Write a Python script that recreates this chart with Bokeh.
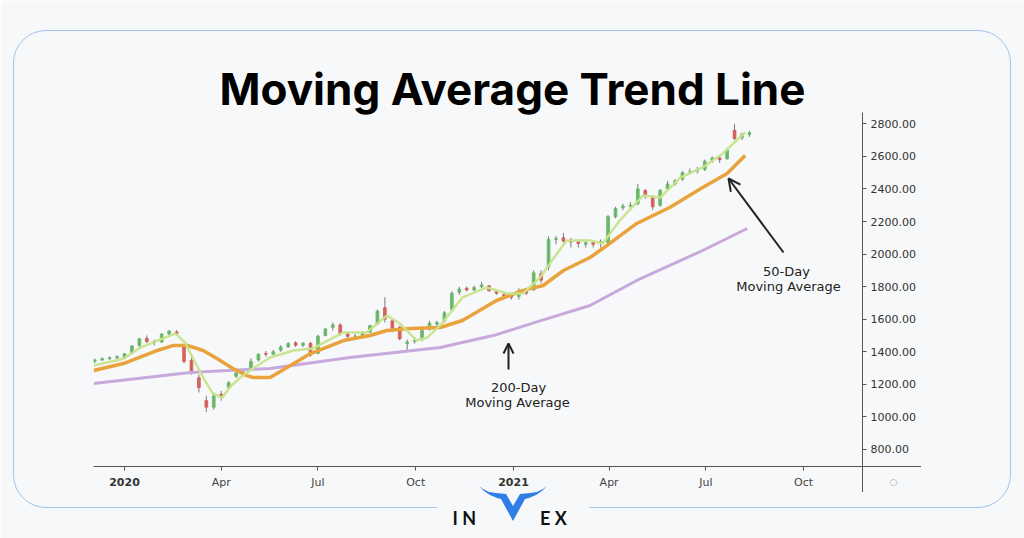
import pandas as pd
from bokeh.plotting import figure
from bokeh.models import (ColumnDataSource, FixedTicker, NumeralTickFormatter, Label,
                          Arrow, OpenHead, Range1d, InlineStyleSheet)
from bokeh.embed import file_html
from bokeh.resources import INLINE

# ---------------- data ----------------
candle_dates = list(pd.date_range("2019-12-04", periods=89, freq="7D").strftime("%Y-%m-%d"))
opens = [1342, 1350, 1358, 1364, 1362, 1392, 1438, 1482, 1462, 1460, 1510, 1522, 1440, 1347, 1240,
         1100, 1060, 1140, 1180, 1250, 1270, 1300, 1350, 1390, 1385, 1410, 1430, 1455, 1440, 1452,
         1390, 1500, 1550, 1565, 1510, 1495, 1495, 1520, 1570, 1670, 1590, 1550, 1450, 1465, 1475,
         1540, 1570, 1590, 1660, 1765, 1790, 1780, 1800, 1805, 1770, 1750, 1745, 1740, 1770, 1780,
         1880, 1920, 2090, 2100, 2080, 2075, 2060, 2070, 2065, 2070, 2230, 2285, 2295, 2310, 2390,
         2350, 2300, 2400, 2430, 2460, 2505, 2510, 2520, 2575, 2590, 2585, 2760, 2715, 2735]
highs = [1358, 1365, 1372, 1378, 1392, 1440, 1485, 1500, 1475, 1515, 1532, 1532, 1450, 1380, 1260,
         1130, 1150, 1160, 1220, 1280, 1290, 1360, 1390, 1405, 1412, 1440, 1460, 1465, 1460, 1460,
         1505, 1545, 1580, 1575, 1520, 1510, 1525, 1565, 1660, 1735, 1600, 1560, 1475, 1490, 1540,
         1590, 1590, 1650, 1770, 1800, 1800, 1805, 1830, 1810, 1780, 1760, 1760, 1790, 1790, 1900,
         1900, 2110, 2110, 2130, 2100, 2090, 2090, 2080, 2090, 2240, 2290, 2310, 2320, 2430, 2400,
         2360, 2400, 2450, 2460, 2510, 2525, 2535, 2580, 2600, 2600, 2650, 2800, 2745, 2755]
lows = [1330, 1343, 1350, 1356, 1355, 1388, 1432, 1455, 1440, 1455, 1500, 1500, 1330, 1260, 1150,
        1030, 1045, 1100, 1170, 1240, 1250, 1290, 1340, 1370, 1380, 1400, 1425, 1430, 1430, 1370,
        1385, 1495, 1530, 1500, 1480, 1480, 1490, 1515, 1565, 1580, 1520, 1470, 1410, 1450, 1465,
        1530, 1550, 1580, 1650, 1750, 1770, 1770, 1790, 1770, 1750, 1730, 1720, 1720, 1750, 1775,
        1820, 1900, 2060, 2070, 2040, 2040, 2040, 2040, 2040, 2060, 2220, 2270, 2280, 2300, 2340,
        2270, 2290, 2395, 2420, 2450, 2490, 2495, 2510, 2560, 2560, 2580, 2700, 2700, 2720]
closes = [1350, 1358, 1364, 1370, 1388, 1435, 1480, 1462, 1458, 1508, 1528, 1510, 1340, 1270, 1180,
          1060, 1130, 1120, 1210, 1270, 1270, 1340, 1385, 1385, 1400, 1430, 1450, 1440, 1452, 1380,
          1495, 1540, 1565, 1510, 1495, 1495, 1515, 1560, 1650, 1600, 1545, 1480, 1460, 1470, 1530,
          1575, 1580, 1640, 1760, 1785, 1780, 1795, 1810, 1775, 1760, 1745, 1735, 1775, 1760, 1885,
          1840, 2090, 2095, 2080, 2075, 2065, 2070, 2060, 2075, 2230, 2280, 2295, 2300, 2400, 2360,
          2290, 2390, 2430, 2450, 2500, 2505, 2520, 2570, 2590, 2580, 2640, 2710, 2735, 2745]

fast_dates = ["2019-12-03", "2019-12-31", "2020-01-16", "2020-02-01", "2020-02-18", "2020-02-27",
              "2020-03-05", "2020-03-15", "2020-03-24", "2020-04-02", "2020-04-09", "2020-04-19",
              "2020-04-28", "2020-05-17", "2020-06-08", "2020-06-26", "2020-07-25", "2020-08-16",
              "2020-09-04", "2020-09-16", "2020-10-02", "2020-10-12", "2020-10-24", "2020-10-30",
              "2020-11-14", "2020-12-07", "2020-12-26", "2021-01-10", "2021-01-26", "2021-02-11",
              "2021-02-20", "2021-03-14", "2021-03-26", "2021-04-11", "2021-05-03", "2021-05-19",
              "2021-06-07", "2021-06-28", "2021-07-17", "2021-08-07"]
fast_ma = [1316, 1357, 1426, 1469, 1512, 1457, 1365, 1242, 1144, 1119, 1181, 1242, 1285, 1365, 1408,
           1420, 1519, 1519, 1623, 1574, 1469, 1488, 1562, 1611, 1734, 1795, 1758, 1758, 1856, 2004,
           2084, 2084, 2065, 2206, 2360, 2347, 2470, 2532, 2618, 2747]

ma50_dates = ["2019-12-03", "2019-12-31", "2020-02-01", "2020-02-16", "2020-02-29", "2020-03-15",
              "2020-03-28", "2020-04-12", "2020-04-25", "2020-05-01", "2020-05-17", "2020-06-02",
              "2020-06-24", "2020-07-25", "2020-08-19", "2020-09-04", "2020-09-26", "2020-10-24",
              "2020-11-14", "2020-12-16", "2021-01-10", "2021-01-29", "2021-02-17", "2021-03-14",
              "2021-03-26", "2021-04-27", "2021-05-28", "2021-06-28", "2021-07-21", "2021-08-07"]
ma50 = [1285, 1328, 1408, 1439, 1439, 1408, 1359, 1297, 1254, 1242, 1242, 1303, 1389, 1469, 1500,
        1531, 1543, 1549, 1592, 1715, 1777, 1807, 1899, 1979, 2034, 2188, 2286, 2409, 2495, 2605]

ma200_dates = ["2019-12-03", "2020-03-03", "2020-05-17", "2020-07-31", "2020-10-24", "2020-12-16",
               "2021-01-26", "2021-03-14", "2021-04-27", "2021-06-28", "2021-08-09"]
ma200 = [1205, 1273, 1298, 1365, 1426, 1505, 1590, 1684, 1838, 2022, 2157]

tick_dates = ["2020-01-01", "2020-04-01", "2020-07-01", "2020-10-01",
              "2021-01-01", "2021-04-01", "2021-07-01", "2021-10-01"]
tick_labels = ["2020", "Apr", "Jul", "Oct", "2021", "Apr", "Jul", "Oct"]
price_ticks = [800, 1000, 1200, 1400, 1600, 1800, 2000, 2200, 2400, 2600, 2800]

# ---------------- helpers ----------------
BASE = pd.Timestamp("2020-01-01")


def day(d):
    return (pd.Timestamp(d) - BASE).days


X0, X1 = -29.17, 694.4
Y0, Y1 = 695.6, 2869.4
FL, FR, FT, FB = 93, 862, 112, 466


def px_x(px):
    return X0 + (px - FL) * (X1 - X0) / (FR - FL)


def px_y(py):
    return Y1 - (py - FT) * (Y1 - Y0) / (FB - FT)


BG = "#f7f8f9"

# decorative page frame (rounded border with logo gap, price-scale corner lines, logo horns)
horn_px = [(479, 486), (484, 491), (490, 495), (497, 498), (501, 499), (513, 521), (525, 499),
           (529, 498), (536, 495), (542, 491), (547, 486), (543, 489), (537, 492), (530, 493),
           (520, 494), (513, 506), (506, 494), (496, 493), (489, 492), (483, 489)]
horn_poly = ", ".join(f"{a - 479}px {b - 486}px" for a, b in horn_px)
css = f"""
:host {{ position: relative; }}
:host::before {{
  content: ""; position: absolute; left: 479px; top: 486px; width: 70px; height: 36px;
  background: #2f7fe6; clip-path: polygon({horn_poly}); pointer-events: none; z-index: 10;
}}
:host::after {{
  content: ""; position: absolute; left: 13px; top: 30px; width: 998px; height: 478px;
  box-sizing: border-box; border: 1.8px solid #9fc4ee; border-radius: 33px;
  background:
    linear-gradient(#555555, #555555) 849px 436px / 59px 1px no-repeat,
    linear-gradient(#555555, #555555) 849px 436px / 1px 26px no-repeat;
  background-origin: border-box;
  clip-path: polygon(0 0, 100% 0, 100% 100%, 576px 100%, 576px 440px, 424px 440px, 424px 100%, 0 100%);
  pointer-events: none; z-index: 10;
}}
"""

p = figure(width=1024, height=538, x_range=Range1d(X0, X1), y_range=Range1d(Y0, Y1),
           y_axis_location="right", output_backend="svg", toolbar_location=None,
           min_border_left=FL, min_border_right=1024 - FR, min_border_top=FT,
           min_border_bottom=538 - FB, stylesheets=[InlineStyleSheet(css=css)])
p.background_fill_color = BG
p.border_fill_color = BG
p.outline_line_color = None
p.xgrid.visible = False
p.ygrid.visible = False

# candles
cx = [day(d) for d in candle_dates]
src = ColumnDataSource(dict(
    x=cx, low=lows, high=highs,
    top=[max(o, c) for o, c in zip(opens, closes)],
    bottom=[min(o, c) for o, c in zip(opens, closes)],
    color=["#5fb760" if c >= o else "#d9534f" for o, c in zip(opens, closes)],
))
p.segment(x0="x", y0="low", x1="x", y1="high", source=src, line_color="#7a7a7a", line_width=1)
p.vbar(x="x", width=2.6, top="top", bottom="bottom", source=src,
       fill_color="color", line_color="color", fill_alpha=0.8, line_alpha=0.8)

# moving averages
p.line([day(d) for d in ma200_dates], ma200, line_color="#c7a9dc", line_width=3)
p.line([day(d) for d in ma50_dates], ma50, line_color="#e9a23c", line_width=3.5, line_join="round")
p.line([day(d) for d in fast_dates], fast_ma, line_color="#c6e48b", line_width=2.5, line_alpha=0.95,
       line_join="round")

# axes
xa = p.xaxis[0]
xa.ticker = FixedTicker(ticks=[day(d) for d in tick_dates])
xa.major_label_overrides = {day(d): ("" if lab.isdigit() else lab) for d, lab in zip(tick_dates, tick_labels)}
xa.minor_tick_line_color = None
xa.major_tick_in = 0
xa.major_tick_out = 4
xa.axis_line_color = "#555555"
xa.major_tick_line_color = "#555555"
xa.major_label_text_font = "DejaVu Sans"
xa.major_label_text_font_size = "11px"
xa.major_label_text_color = "#444444"
xa.major_label_standoff = 5

ya = p.yaxis[0]
ya.ticker = FixedTicker(ticks=price_ticks)
ya.formatter = NumeralTickFormatter(format="0.00")
ya.minor_tick_line_color = None
ya.major_tick_in = 0
ya.major_tick_out = 4
ya.axis_line_color = "#555555"
ya.major_tick_line_color = "#555555"
ya.major_label_text_font = "DejaVu Sans"
ya.major_label_text_font_size = "11px"
ya.major_label_text_color = "#333333"
ya.major_label_standoff = 4

# year labels in bold (side panel so they are not clipped)
for d, lab in zip(tick_dates, tick_labels):
    if lab.isdigit():
        p.add_layout(Label(x=day(d), y=px_y(481), text=lab, text_align="center",
                           text_baseline="middle", text_font="DejaVu Sans",
                           text_font_size="11px", text_font_style="bold", text_color="#333333"),
                     "left")

p.add_layout(Label(x=px_x(893), y=px_y(481), text="○", text_align="center", text_baseline="middle",
                   text_font="DejaVu Sans", text_font_size="9px", text_color="#aaaaaa"), "right")

# title
p.add_layout(Label(x=px_x(512), y=px_y(88), text="Moving Average Trend Line", text_align="center",
                   text_baseline="middle", text_font="Inter", text_font_size="44px",
                   text_font_style="bold", text_color="#000000"), "above")

# annotations
ann_color = "#222222"
p.add_layout(Arrow(end=OpenHead(size=10, line_width=2, line_color=ann_color),
                   x_start=px_x(508), y_start=px_y(369), x_end=px_x(508), y_end=px_y(343),
                   line_color=ann_color, line_width=2))
p.add_layout(Label(x=px_x(518), y=px_y(387), text="200-Day", text_align="center",
                   text_baseline="middle", text_font="DejaVu Sans", text_font_size="13px",
                   text_color=ann_color))
p.add_layout(Label(x=px_x(517), y=px_y(402), text="Moving Average", text_align="center",
                   text_baseline="middle", text_font="DejaVu Sans", text_font_size="13px",
                   text_color=ann_color))
p.add_layout(Arrow(end=OpenHead(size=12, line_width=2, line_color=ann_color),
                   x_start=px_x(783), y_start=px_y(252), x_end=px_x(728), y_end=px_y(178),
                   line_color=ann_color, line_width=2))
p.add_layout(Label(x=px_x(786), y=px_y(271), text="50-Day", text_align="center",
                   text_baseline="middle", text_font="DejaVu Sans", text_font_size="13px",
                   text_color=ann_color))
p.add_layout(Label(x=px_x(788), y=px_y(286), text="Moving Average", text_align="center",
                   text_baseline="middle", text_font="DejaVu Sans", text_font_size="13px",
                   text_color=ann_color))

# logo letters
p.add_layout(Label(x=px_x(466), y=px_y(517), text="I  N", text_align="center",
                   text_baseline="alphabetic", text_font="Lato", text_font_size="18px",
                   text_font_style="bold", text_color="#111111"), "below")
p.add_layout(Label(x=px_x(555), y=px_y(517), text="E  X", text_align="center",
                   text_baseline="alphabetic", text_font="Lato", text_font_size="18px",
                   text_font_style="bold", text_color="#111111"), "below")

open("out.html", "w").write(file_html(p, INLINE))
